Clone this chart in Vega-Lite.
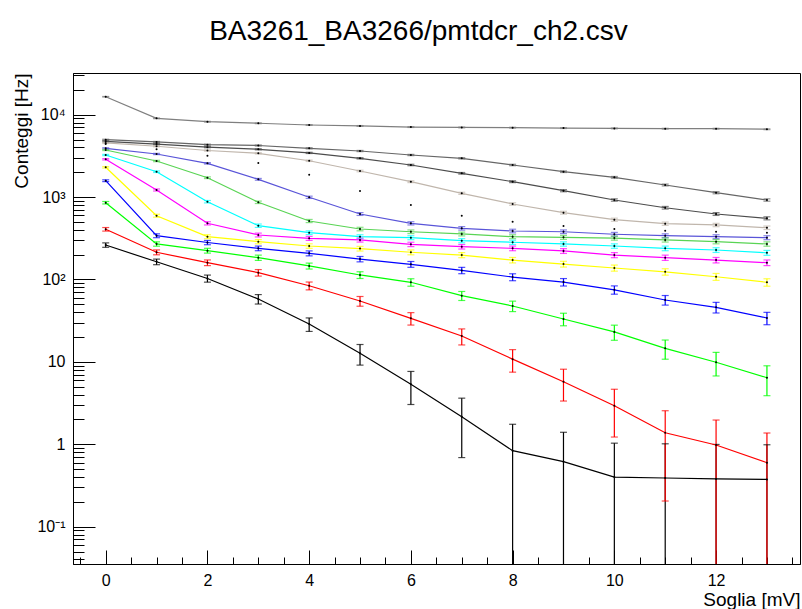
{
  "$schema": "https://vega.github.io/schema/vega-lite/v6.json",
  "width": 727,
  "height": 491,
  "autosize": {"type": "none"},
  "padding": {"left": 73, "top": 73, "right": 2, "bottom": 45},
  "background": "white",
  "config": {
    "view": {"stroke": "black", "strokeWidth": 1},
    "font": "Liberation Sans",
    "axis": {"labelFont": "Liberation Sans", "titleFont": "Liberation Sans", "labelColor": "black", "titleColor": "black", "domainColor": "black", "tickColor": "black", "grid": false}
  },
  "title": {"text": "BA3261_BA3266/pmtdcr_ch2.csv", "font": "Liberation Sans", "fontSize": 28, "fontWeight": "normal", "color": "black", "anchor": "middle", "frame": "group", "dx": -18, "baseline": "alphabetic", "offset": 5},
  "data": {"values": [
    {"s":"s1","x":0,"v":262,"lo":245.8,"hi":278.2},{"s":"s1","x":1,"v":164,"lo":151.2,"hi":176.8},{"s":"s1","x":2,"v":103,"lo":92.85,"hi":113.15},{"s":"s1","x":3,"v":58,"lo":50.38,"hi":65.62},{"s":"s1","x":4,"v":28.8,"lo":23.43,"hi":34.17},{"s":"s1","x":5,"v":12.7,"lo":9.14,"hi":16.26},{"s":"s1","x":6,"v":5.35,"lo":3.04,"hi":7.66},{"s":"s1","x":7,"v":2.16,"lo":0.69,"hi":3.63},{"s":"s1","x":8,"v":0.836,"lo":0.001,"hi":1.75},{"s":"s1","x":9,"v":0.615,"lo":0.001,"hi":1.399},{"s":"s1","x":10,"v":0.4,"lo":0.001,"hi":1.032},{"s":"s1","x":11,"v":0.39,"lo":0.001,"hi":1.014},{"s":"s1","x":12,"v":0.38,"lo":0.001,"hi":0.996},{"s":"s1","x":13,"v":0.375,"lo":0.001,"hi":0.987},
    {"s":"s2","x":0,"v":407,"lo":386.8,"hi":427.2},{"s":"s2","x":1,"v":214,"lo":199.4,"hi":228.6},{"s":"s2","x":2,"v":160,"lo":147.35,"hi":172.65},{"s":"s2","x":3,"v":121,"lo":110,"hi":132},{"s":"s2","x":4,"v":84,"lo":74.83,"hi":93.17},{"s":"s2","x":5,"v":54.8,"lo":47.4,"hi":62.2},{"s":"s2","x":6,"v":33.8,"lo":27.99,"hi":39.61},{"s":"s2","x":7,"v":20.6,"lo":16.06,"hi":25.14},{"s":"s2","x":8,"v":10.8,"lo":7.51,"hi":14.09},{"s":"s2","x":9,"v":5.75,"lo":3.35,"hi":8.15},{"s":"s2","x":10,"v":2.94,"lo":1.225,"hi":4.655},{"s":"s2","x":11,"v":1.38,"lo":0.205,"hi":2.555},{"s":"s2","x":12,"v":0.98,"lo":0.001,"hi":1.97},{"s":"s2","x":13,"v":0.598,"lo":0.001,"hi":1.371},
    {"s":"s3","x":0,"v":855,"lo":825.8,"hi":884.2},{"s":"s3","x":1,"v":270,"lo":253.6,"hi":286.4},{"s":"s3","x":2,"v":224,"lo":209,"hi":239},{"s":"s3","x":3,"v":184,"lo":170.4,"hi":197.6},{"s":"s3","x":4,"v":146,"lo":133.9,"hi":158.1},{"s":"s3","x":5,"v":113.5,"lo":102.85,"hi":124.15},{"s":"s3","x":6,"v":92.5,"lo":82.88,"hi":102.12},{"s":"s3","x":7,"v":63.6,"lo":55.63,"hi":71.57},{"s":"s3","x":8,"v":47.7,"lo":40.79,"hi":54.61},{"s":"s3","x":9,"v":33.2,"lo":27.44,"hi":38.96},{"s":"s3","x":10,"v":23.1,"lo":18.29,"hi":27.91},{"s":"s3","x":11,"v":14.6,"lo":10.78,"hi":18.42},{"s":"s3","x":12,"v":9.9,"lo":6.75,"hi":13.05},{"s":"s3","x":13,"v":6.43,"lo":3.89,"hi":8.97},
    {"s":"s4","x":0,"v":1581,"lo":1541.2,"hi":1620.8},{"s":"s4","x":1,"v":340,"lo":321.6,"hi":358.4},{"s":"s4","x":2,"v":281,"lo":264.2,"hi":297.8},{"s":"s4","x":3,"v":239,"lo":223.5,"hi":254.5},{"s":"s4","x":4,"v":208,"lo":193.6,"hi":222.4},{"s":"s4","x":5,"v":177,"lo":163.7,"hi":190.3},{"s":"s4","x":6,"v":153,"lo":140.6,"hi":165.4},{"s":"s4","x":7,"v":129,"lo":117.6,"hi":140.4},{"s":"s4","x":8,"v":107,"lo":96.66,"hi":117.34},{"s":"s4","x":9,"v":93,"lo":83.36,"hi":102.64},{"s":"s4","x":10,"v":75,"lo":66.34,"hi":83.66},{"s":"s4","x":11,"v":56.4,"lo":48.89,"hi":63.91},{"s":"s4","x":12,"v":46,"lo":39.22,"hi":52.78},{"s":"s4","x":13,"v":34.1,"lo":28.26,"hi":39.94},
    {"s":"s5","x":0,"v":2300,"lo":2252,"hi":2348},{"s":"s5","x":1,"v":595,"lo":570.6,"hi":619.4},{"s":"s5","x":2,"v":331,"lo":312.8,"hi":349.2},{"s":"s5","x":3,"v":288,"lo":271,"hi":305},{"s":"s5","x":4,"v":255,"lo":239,"hi":271},{"s":"s5","x":5,"v":237,"lo":221.6,"hi":252.4},{"s":"s5","x":6,"v":214,"lo":199.4,"hi":228.6},{"s":"s5","x":7,"v":198,"lo":183.9,"hi":212.1},{"s":"s5","x":8,"v":172,"lo":158.9,"hi":185.1},{"s":"s5","x":9,"v":154,"lo":141.6,"hi":166.4},{"s":"s5","x":10,"v":138,"lo":126.25,"hi":149.75},{"s":"s5","x":11,"v":124,"lo":112.9,"hi":135.1},{"s":"s5","x":12,"v":108,"lo":97.6,"hi":118.4},{"s":"s5","x":13,"v":92.5,"lo":82.9,"hi":102.1},
    {"s":"s6","x":0,"v":2877,"lo":2823,"hi":2931},{"s":"s6","x":1,"v":1220,"lo":1185,"hi":1255},{"s":"s6","x":2,"v":481,"lo":459.1,"hi":502.9},{"s":"s6","x":3,"v":347,"lo":328.4,"hi":365.6},{"s":"s6","x":4,"v":316,"lo":298.2,"hi":333.8},{"s":"s6","x":5,"v":302,"lo":284.6,"hi":319.4},{"s":"s6","x":6,"v":267,"lo":250.7,"hi":283.3},{"s":"s6","x":7,"v":250,"lo":234.2,"hi":265.8},{"s":"s6","x":8,"v":239,"lo":223.5,"hi":254.5},{"s":"s6","x":9,"v":222,"lo":207.1,"hi":236.9},{"s":"s6","x":10,"v":198,"lo":183.9,"hi":212.1},{"s":"s6","x":11,"v":184,"lo":170.4,"hi":197.6},{"s":"s6","x":12,"v":172,"lo":158.9,"hi":185.1},{"s":"s6","x":13,"v":160,"lo":147.4,"hi":172.6},
    {"s":"s7","x":0,"v":3243,"lo":3186,"hi":3300},{"s":"s7","x":1,"v":2033,"lo":1988,"hi":2078},{"s":"s7","x":2,"v":880,"lo":850.3,"hi":909.7},{"s":"s7","x":3,"v":450,"lo":428.8,"hi":471.2},{"s":"s7","x":4,"v":370,"lo":350.8,"hi":389.2},{"s":"s7","x":5,"v":331,"lo":312.8,"hi":349.2},{"s":"s7","x":6,"v":322,"lo":304.1,"hi":339.9},{"s":"s7","x":7,"v":296,"lo":278.8,"hi":313.2},{"s":"s7","x":8,"v":283,"lo":266.2,"hi":299.8},{"s":"s7","x":9,"v":270,"lo":253.6,"hi":286.4},{"s":"s7","x":10,"v":255,"lo":239,"hi":271},{"s":"s7","x":11,"v":239,"lo":223.5,"hi":254.5},{"s":"s7","x":12,"v":228,"lo":212.9,"hi":243.1},{"s":"s7","x":13,"v":211,"lo":196.5,"hi":225.5},
    {"s":"s8","x":0,"v":3730,"lo":3669,"hi":3791},{"s":"s8","x":1,"v":2743,"lo":2691,"hi":2795},{"s":"s8","x":2,"v":1719,"lo":1678,"hi":1760},{"s":"s8","x":3,"v":865,"lo":835.6,"hi":894.4},{"s":"s8","x":4,"v":513,"lo":490.4,"hi":535.7},{"s":"s8","x":5,"v":410,"lo":389.8,"hi":430.2},{"s":"s8","x":6,"v":380,"lo":360.5,"hi":399.5},{"s":"s8","x":7,"v":357,"lo":338.1,"hi":375.9},{"s":"s8","x":8,"v":331,"lo":312.8,"hi":349.2},{"s":"s8","x":9,"v":325,"lo":307,"hi":343},{"s":"s8","x":10,"v":318,"lo":300.2,"hi":335.8},{"s":"s8","x":11,"v":302,"lo":284.6,"hi":319.4},{"s":"s8","x":12,"v":288,"lo":271,"hi":305},{"s":"s8","x":13,"v":270,"lo":253.6,"hi":286.4},
    {"s":"s9","x":0,"v":3910,"lo":3847,"hi":3973},{"s":"s9","x":1,"v":3337,"lo":3279,"hi":3395},{"s":"s9","x":2,"v":2570,"lo":2519,"hi":2621},{"s":"s9","x":3,"v":1644,"lo":1603,"hi":1685},{"s":"s9","x":4,"v":995,"lo":963.5,"hi":1026.5},{"s":"s9","x":5,"v":624,"lo":599,"hi":649},{"s":"s9","x":6,"v":481,"lo":459.1,"hi":502.9},{"s":"s9","x":7,"v":418,"lo":397.6,"hi":438.4},{"s":"s9","x":8,"v":388,"lo":368.3,"hi":407.7},{"s":"s9","x":9,"v":380,"lo":360.5,"hi":399.5},{"s":"s9","x":10,"v":354,"lo":335.2,"hi":372.8},{"s":"s9","x":11,"v":340,"lo":321.6,"hi":358.4},{"s":"s9","x":12,"v":331,"lo":312.8,"hi":349.2},{"s":"s9","x":13,"v":322,"lo":304.1,"hi":339.9},
    {"s":"s10","x":0,"v":4400,"lo":4334,"hi":4466},{"s":"s10","x":1,"v":3800,"lo":3738,"hi":3862},{"s":"s10","x":2,"v":3180,"lo":3124,"hi":3236},{"s":"s10","x":3,"v":2590,"lo":2539,"hi":2641},{"s":"s10","x":4,"v":1870,"lo":1827,"hi":1913},{"s":"s10","x":5,"v":1186,"lo":1152,"hi":1220},{"s":"s10","x":6,"v":802,"lo":773.7,"hi":830.3},{"s":"s10","x":7,"v":595,"lo":570.6,"hi":619.4},{"s":"s10","x":8,"v":503,"lo":480.6,"hi":525.4},{"s":"s10","x":9,"v":446,"lo":424.9,"hi":467.1},{"s":"s10","x":10,"v":410,"lo":389.8,"hi":430.2},{"s":"s10","x":11,"v":391,"lo":371.2,"hi":410.8},{"s":"s10","x":12,"v":380,"lo":360.5,"hi":399.5},{"s":"s10","x":13,"v":370,"lo":350.8,"hi":389.2},
    {"s":"s11","x":0,"v":4540,"lo":4473,"hi":4607},{"s":"s11","x":1,"v":4140,"lo":4076,"hi":4204},{"s":"s11","x":2,"v":3675,"lo":3614,"hi":3736},{"s":"s11","x":3,"v":3400,"lo":3342,"hi":3458},{"s":"s11","x":4,"v":2760,"lo":2707,"hi":2813},{"s":"s11","x":5,"v":2075,"lo":2029,"hi":2121},{"s":"s11","x":6,"v":1538,"lo":1499,"hi":1577},{"s":"s11","x":7,"v":1112,"lo":1079,"hi":1145},{"s":"s11","x":8,"v":825,"lo":796.3,"hi":853.7},{"s":"s11","x":9,"v":647,"lo":621.6,"hi":672.4},{"s":"s11","x":10,"v":532,"lo":508.9,"hi":555.1},{"s":"s11","x":11,"v":476,"lo":454.2,"hi":497.8},{"s":"s11","x":12,"v":459,"lo":437.6,"hi":480.4},{"s":"s11","x":13,"v":425,"lo":404.4,"hi":445.6},
    {"s":"s12","x":0,"v":4755,"lo":4686,"hi":4824},{"s":"s12","x":1,"v":4400,"lo":4334,"hi":4466},{"s":"s12","x":2,"v":4040,"lo":3976,"hi":4104},{"s":"s12","x":3,"v":3805,"lo":3743,"hi":3867},{"s":"s12","x":4,"v":3440,"lo":3381,"hi":3499},{"s":"s12","x":5,"v":2958,"lo":2904,"hi":3012},{"s":"s12","x":6,"v":2453,"lo":2404,"hi":2503},{"s":"s12","x":7,"v":1945,"lo":1901,"hi":1989},{"s":"s12","x":8,"v":1538,"lo":1499,"hi":1577},{"s":"s12","x":9,"v":1196,"lo":1161,"hi":1231},{"s":"s12","x":10,"v":922,"lo":891.6,"hi":952.4},{"s":"s12","x":11,"v":743,"lo":715.7,"hi":770.3},{"s":"s12","x":12,"v":624,"lo":599,"hi":649},{"s":"s12","x":13,"v":553,"lo":529.5,"hi":576.5},
    {"s":"s13","x":0,"v":4970,"lo":4900,"hi":5040},{"s":"s13","x":1,"v":4670,"lo":4602,"hi":4738},{"s":"s13","x":2,"v":4325,"lo":4259,"hi":4391},{"s":"s13","x":3,"v":4230,"lo":4165,"hi":4295},{"s":"s13","x":4,"v":3910,"lo":3848,"hi":3972},{"s":"s13","x":5,"v":3625,"lo":3565,"hi":3685},{"s":"s13","x":6,"v":3243,"lo":3186,"hi":3300},{"s":"s13","x":7,"v":2958,"lo":2904,"hi":3012},{"s":"s13","x":8,"v":2453,"lo":2404,"hi":2503},{"s":"s13","x":9,"v":2033,"lo":1988,"hi":2078},{"s":"s13","x":10,"v":1738,"lo":1696,"hi":1780},{"s":"s13","x":11,"v":1403,"lo":1366,"hi":1440},{"s":"s13","x":12,"v":1131,"lo":1097,"hi":1165},{"s":"s13","x":13,"v":922,"lo":891.6,"hi":952.4},
    {"s":"s14","x":0,"v":16520,"lo":16391,"hi":16649},{"s":"s14","x":1,"v":9040,"lo":8945,"hi":9135},{"s":"s14","x":2,"v":8220,"lo":8129,"hi":8311},{"s":"s14","x":3,"v":7870,"lo":7781,"hi":7959},{"s":"s14","x":4,"v":7500,"lo":7413,"hi":7587},{"s":"s14","x":5,"v":7300,"lo":7215,"hi":7385},{"s":"s14","x":6,"v":7080,"lo":6996,"hi":7164},{"s":"s14","x":7,"v":7000,"lo":6916,"hi":7084},{"s":"s14","x":8,"v":6960,"lo":6877,"hi":7043},{"s":"s14","x":9,"v":6880,"lo":6797,"hi":6963},{"s":"s14","x":10,"v":6820,"lo":6737,"hi":6903},{"s":"s14","x":11,"v":6760,"lo":6678,"hi":6842},{"s":"s14","x":12,"v":6760,"lo":6678,"hi":6842},{"s":"s14","x":13,"v":6660,"lo":6578,"hi":6742}
  ]},
  "resolve": {"axis": {"x": "independent", "y": "independent"}},
  "layer": [
    {
      "mark": {"type": "rule", "clip": true, "strokeWidth": 1.2},
      "encoding": {
        "x": {"field": "x", "type": "quantitative", "scale": {"domain": [-0.643, 13.65], "nice": false, "zero": false},
              "axis": {"orient": "bottom", "values": [-0.5,0.5,1,1.5,2.5,3,3.5,4.5,5,5.5,6.5,7,7.5,8.5,9,9.5,10.5,11,11.5,12.5,13,13.5], "labels": false, "title": null, "domain": false, "tickSize": -7, "grid": false}},
        "y": {"field": "lo", "type": "quantitative", "scale": {"type": "log", "domain": [0.03526, 32070], "nice": false},
              "axis": {"orient": "left", "values": [0.04,0.05,0.06,0.07,0.08,0.09,0.2,0.3,0.4,0.5,0.6,0.7,0.8,0.9,2,3,4,5,6,7,8,9,20,30,40,50,60,70,80,90,200,300,400,500,600,700,800,900,2000,3000,4000,5000,6000,7000,8000,9000,20000,30000], "labels": false, "title": null, "domain": false, "tickSize": -11, "grid": false}},
        "y2": {"field": "hi"},
        "color": {"field": "s", "type": "nominal", "legend": null,
                  "scale": {"domain": ["s1","s2","s3","s4","s5","s6","s7","s8","s9","s10","s11","s12","s13","s14"],
                            "range": ["#000000","#ff0000","#00ff00","#0000ff","#ffff00","#ff00ff","#00ffff","#59d454","#5954d8","transparent","#c0b6ac","#4c4c4c","#666666","#7f7f7f"]}}
      }
    },
    {
      "mark": {"type": "tick", "clip": true, "orient": "horizontal", "size": 7, "thickness": 1.2},
      "encoding": {
        "x": {"field": "x", "type": "quantitative", "axis": null},
        "y": {"field": "lo", "type": "quantitative", "axis": null},
        "color": {"field": "s", "type": "nominal", "legend": null}
      }
    },
    {
      "mark": {"type": "tick", "clip": true, "orient": "horizontal", "size": 7, "thickness": 1.2},
      "encoding": {
        "x": {"field": "x", "type": "quantitative", "axis": null},
        "y": {"field": "hi", "type": "quantitative", "axis": null},
        "color": {"field": "s", "type": "nominal", "legend": null}
      }
    },
    {
      "mark": {"type": "line", "clip": true, "strokeWidth": 1.2},
      "encoding": {
        "x": {"field": "x", "type": "quantitative",
              "axis": {"orient": "bottom", "values": [0,2,4,6,8,10,12], "labelFontSize": 16, "tickSize": -14, "labelPadding": 22, "domain": true, "domainWidth": 1, "title": "Soglia [mV]", "titleFontSize": 19, "titleFontWeight": "normal", "titleAnchor": "end", "titleAlign": "right", "titleBaseline": "alphabetic", "titleX": 727, "titleY": 41, "grid": false}},
        "y": {"field": "v", "type": "quantitative",
              "axis": {"orient": "left", "values": [0.1,1,10,100,1000,10000], "labelFontSize": 16, "tickSize": -22, "labelPadding": 30,
                       "labelExpr": "datum.value < 0.5 ? '10⁻¹' : datum.value < 5 ? '1' : datum.value < 50 ? '10' : datum.value < 500 ? '10²' : datum.value < 5000 ? '10³' : '10⁴'",
                       "domain": true, "title": "Conteggi [Hz]", "titleFontSize": 19, "titleFontWeight": "normal", "titleAngle": -90, "titleAlign": "right", "titleBaseline": "middle", "titleX": -52, "titleY": 0, "grid": false}},
        "color": {"field": "s", "type": "nominal", "legend": null}
      }
    },
    {
      "mark": {"type": "point", "filled": true, "clip": true, "size": 4, "color": "black", "opacity": 1},
      "encoding": {
        "x": {"field": "x", "type": "quantitative", "axis": null},
        "y": {"field": "v", "type": "quantitative", "axis": null},
        "detail": {"field": "s"}
      }
    }
  ]
}
